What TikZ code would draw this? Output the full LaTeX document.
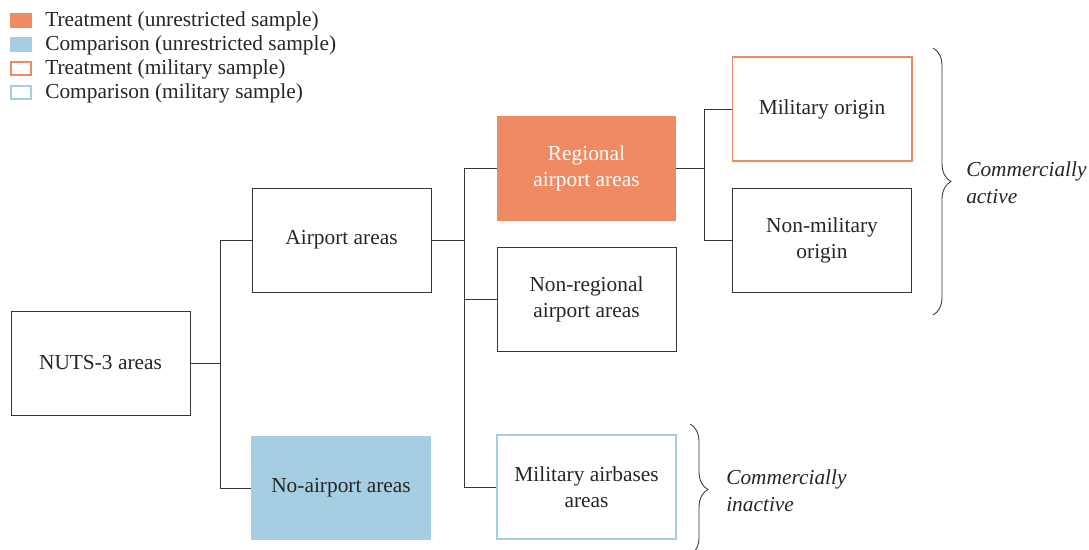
\documentclass[tikz,border=0pt]{standalone}
\usepackage{fontspec}
\setmainfont{Liberation Serif}
\usetikzlibrary{positioning,decorations.pathreplacing}
\definecolor{treatorange}{RGB}{240,138,98}
\definecolor{compblue}{RGB}{166,206,227}
\definecolor{linegray}{RGB}{55,55,55}

\begin{document}
\begin{tikzpicture}[x=0.025cm,y=-0.025cm,
  font=\fontsize{15.2}{18.5}\selectfont,
  area/.style={draw=linegray,line width=0.6pt,minimum width=4.475cm,minimum height=2.6cm,align=center,inner sep=2pt,text=black!85},
  legbox/.style={minimum width=0.55cm,minimum height=0.375cm,inner sep=0pt},
  legtext/.style={anchor=west,inner sep=0pt,text=black!85},
  sidetext/.style={anchor=west,align=left,font=\fontsize{15.2}{19.2}\selectfont\itshape,inner sep=0pt,text=black!85},
  conn/.style={draw=linegray,line width=0.6pt},
  bracket/.style={draw=linegray,line width=0.6pt,decorate,decoration={brace,amplitude=0.45cm,aspect=0.5}}]
  \useasboundingbox (0,0) rectangle (1089,549);

  % legend
  \node[legbox,fill=treatorange] (lg1) at (21,20.5) {};
  \node[legbox,fill=compblue] (lg2) at (21,44.5) {};
  \node[legbox,draw=treatorange,line width=1.4pt,minimum width=0.5cm,minimum height=0.33cm] (lg3) at (21,68.5) {};
  \node[legbox,draw=compblue,line width=1.4pt,minimum width=0.5cm,minimum height=0.33cm] (lg4) at (21,92.5) {};
  \node[legtext] at (45,21) {Treatment (unrestricted sample)};
  \node[legtext] at (45,45) {Comparison (unrestricted sample)};
  \node[legtext] at (45,69) {Treatment (military sample)};
  \node[legtext] at (45,93) {Comparison (military sample)};

  % boxes
  \node[area] (nuts) at (100.5,363) {NUTS-3 areas};
  \node[area] (air) at (341.5,240) {Airport areas};
  \node[area,draw=none,fill=compblue] (noair) at (341,488) {No-airport areas};
  \node[area,draw=none,fill=treatorange,text=white] (reg) at (586.5,168.5) {Regional\\airport areas};
  \node[area] (nonreg) at (586.5,299) {Non-regional\\airport areas};
  \node[area,draw=compblue,line width=1.4pt] (milbase) at (586.5,487) {Military airbases\\areas};
  \node[area,draw=treatorange,line width=1.4pt] (milo) at (822,109) {Military origin};
  \node[area] (nonmil) at (822,240.5) {Non-military\\origin};

  % connectors
  \draw[conn] (nuts.east) -- ++(31,0);
  \draw[conn] (air.west) -- ++(-31,0) |- (noair.west);
  \draw[conn] (air.east) -- ++(33,0);
  \draw[conn] (reg.west) -- ++(-32,0) |- (milbase.west);
  \draw[conn] (nonreg.west) -- ++(-33,0);
  \draw[conn] (reg.east) -- ++(28,0);
  \draw[conn] (milo.west) -- ++(-27,0) |- (nonmil.west);

  % brackets
  \draw[bracket] (933,48) -- (933,315);
  \node[sidetext] (active) at (966,183) {Commercially\\active};
  \draw[bracket] (690,424) -- (690,555);
  \node[sidetext] (inactive) at (726,491) {Commercially\\inactive};
\end{tikzpicture}
\end{document}
